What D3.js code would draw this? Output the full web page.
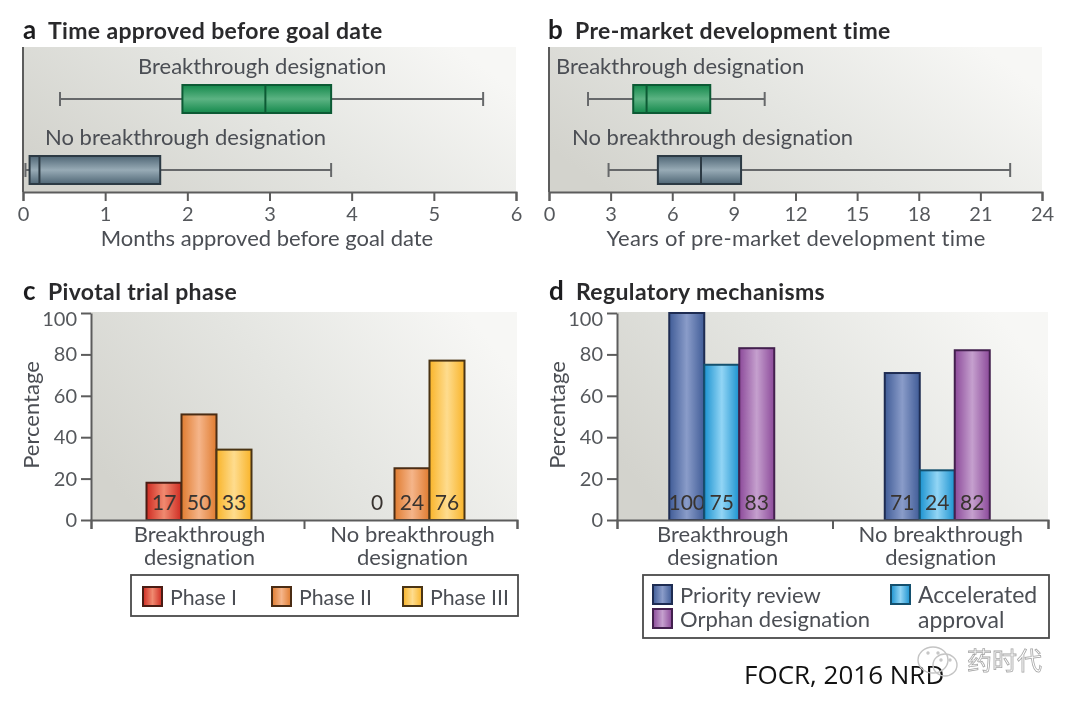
<!DOCTYPE html>
<html>
<head>
<meta charset="utf-8">
<script src="https://cdn.jsdelivr.net/npm/d3@7"></script>
<style>
  html, body { margin: 0; padding: 0; background: #fff; }
  svg { display: block; filter: blur(0.45px); }
  text { font-family: Lato, "Noto Sans", sans-serif; fill: #4b4e54; font-variant-ligatures: none; }
  .title { font-weight: 700; font-size: 23px; letter-spacing: 0.35px; fill: #2a2a2c; }
  .letter { font-weight: 700; font-size: 26px; fill: #1c1c1e; }
  .lab { font-size: 22px; }
  .tick text { font-size: 20px; fill: #55585c; }
  .val { font-size: 21px; fill: #38332f; text-anchor: middle; }
  .axis path, .axis line { stroke: #5c5c5c; stroke-width: 2; fill: none; }
</style>
</head>
<body>
<svg id="chart" width="1080" height="710"></svg>
<script>
// box stats: [whisker low, q1, median, q3, whisker high]
const groups = ["Breakthrough designation", "No breakthrough designation"];
const monthsBreakthrough = [0.45, 1.94, 2.95, 3.75, 5.6];
const monthsNone = [0.03, 0.08, 0.2, 1.67, 3.75];
const yearsBreakthrough = [1.9, 4.1, 4.75, 7.85, 10.5];
const yearsNone = [2.9, 5.3, 7.4, 9.35, 22.45];
const monthTicks = [0, 1, 2, 3, 4, 5, 6];
const yearTicks = [0, 3, 6, 9, 12, 15, 18, 21, 24];

const barGroups = ["Breakthrough", "No breakthrough"];
const percentTicks = [0, 20, 40, 60, 80, 100];
const phases = ["Phase I", "Phase II", "Phase III"];
// drawn heights in panel c sit a little above the printed numbers
const phaseHeights = [[18, 51, 34], [0, 25, 77]];
const phaseLabels = [[17, 50, 33], [0, 24, 76]];
const mechanisms = ["Priority review", "Accelerated", "approval", "Orphan designation"];
const mechanismValues = [[100, 75, 83], [71, 24, 82]];

const svg = d3.select("#chart");
const defs = svg.append("defs");

// background panel shading
const bg = defs.append("linearGradient").attr("id", "panelBg")
  .attr("x1", "0").attr("y1", "0.7").attr("x2", "1").attr("y2", "0.3");
bg.append("stop").attr("offset", "0").attr("stop-color", "#d3d3cd");
bg.append("stop").attr("offset", "0.5").attr("stop-color", "#e4e5e1");
bg.append("stop").attr("offset", "1").attr("stop-color", "#f7f7f5");

function shine(id, edge, mid, vertical) {
  const g = defs.append("linearGradient").attr("id", id)
    .attr("x1", "0").attr("y1", "0")
    .attr("x2", vertical ? "0" : "1").attr("y2", vertical ? "1" : "0");
  g.append("stop").attr("offset", "0").attr("stop-color", edge);
  g.append("stop").attr("offset", "0.5").attr("stop-color", mid);
  g.append("stop").attr("offset", "1").attr("stop-color", edge);
}
shine("boxGreen", "#14894c", "#5cb383", true);
shine("boxGrey", "#4f6675", "#98abb6", true);
shine("red", "#cf2b22", "#f08a70", false);
shine("orange", "#e07c30", "#f5b58a", false);
shine("yellow", "#f9b42a", "#fedc8e", false);
shine("navy", "#405c97", "#8a9cc9", false);
shine("cyan", "#1c93d0", "#92d5f5", false);
shine("purple", "#8c4a9a", "#c5a0ce", false);

function heading(x, y, letter, dx, title) {
  svg.append("text").attr("class", "letter").attr("x", x).attr("y", y).text(letter);
  svg.append("text").attr("class", "title").attr("x", x + dx).attr("y", y).text(title);
}

function drawBoxPanel(opts) {
  const x = d3.scaleLinear().domain(opts.domain).range([opts.left, opts.left + 493]);
  const top = 47, base = 192;

  svg.append("rect").attr("x", opts.left).attr("y", top)
    .attr("width", 493).attr("height", base - top).attr("fill", "url(#panelBg)");

  svg.append("g").attr("class", "axis")
    .attr("transform", `translate(0,${base})`)
    .call(d3.axisBottom(x).tickValues(opts.ticks).tickFormat(d3.format("d")).tickSize(9).tickPadding(6));
  svg.append("line").attr("x1", opts.left).attr("x2", opts.left)
    .attr("y1", top).attr("y2", base).attr("stroke", "#5c5c5c").attr("stroke-width", 2);

  opts.rows.forEach(r => {
    const [lo, q1, med, q3, hi] = r.stats;
    const g = svg.append("g");
    g.append("line").attr("x1", x(lo)).attr("x2", x(hi)).attr("y1", r.cy).attr("y2", r.cy)
      .attr("stroke", "#66686a").attr("stroke-width", 2);
    [lo, hi].forEach(v => {
      g.append("line").attr("x1", x(v)).attr("x2", x(v)).attr("y1", r.cy - 7).attr("y2", r.cy + 7)
        .attr("stroke", "#66686a").attr("stroke-width", 2);
    });
    g.append("rect").attr("x", x(q1)).attr("y", r.cy - 14)
      .attr("width", x(q3) - x(q1)).attr("height", 28)
      .attr("fill", `url(#${r.fill})`).attr("stroke", r.stroke).attr("stroke-width", 2);
    g.append("line").attr("x1", x(med)).attr("x2", x(med)).attr("y1", r.cy - 14).attr("y2", r.cy + 14)
      .attr("stroke", r.stroke).attr("stroke-width", 2);
    svg.append("text").attr("class", "lab").attr("x", r.labelX).attr("y", r.cy - 25).text(r.label);
  });

  svg.append("text").attr("class", "lab").attr("text-anchor", "middle")
    .style("letter-spacing", opts.xlabelSpacing)
    .attr("x", opts.xlabelX).attr("y", 246).text(opts.xlabel);
}

function drawBarPanel(opts) {
  const top = 313, base = 520;
  const y = d3.scaleLinear().domain([0, 100]).range([base, top]);
  const edge = d3.scaleLinear().domain([0, 2]).range([opts.left, opts.right]);
  const cat = d3.scaleBand().domain(barGroups).range([opts.left, opts.right]);
  const slot = d3.scaleBand().domain(d3.range(3)).range([0, 105]);

  svg.append("rect").attr("x", opts.left).attr("y", top - 1)
    .attr("width", opts.right - opts.left).attr("height", base - top + 1).attr("fill", "url(#panelBg)");

  barGroups.forEach((name, i) => {
    const g = svg.append("g")
      .attr("transform", `translate(${cat(name) + cat.bandwidth() / 2 + opts.shift - 52.5},0)`);
    opts.heights[i].forEach((v, j) => {
      if (v > 0) {
        g.append("rect").attr("x", slot(j)).attr("y", y(v))
          .attr("width", slot.bandwidth()).attr("height", y(0) - y(v))
          .attr("fill", `url(#${opts.fills[j]})`)
          .attr("stroke", opts.strokes[j]).attr("stroke-width", 2);
      }
      g.append("text").attr("class", "val")
        .attr("x", slot(j) + slot.bandwidth() / 2).attr("y", 510).text(opts.labels[i][j]);
    });
    const cx = cat(name) + cat.bandwidth() / 2 + opts.textShift[i];
    svg.append("text").attr("class", "lab").attr("text-anchor", "middle")
      .attr("x", cx).attr("y", 542).text(name);
    svg.append("text").attr("class", "lab").attr("text-anchor", "middle")
      .attr("x", cx).attr("y", 565).text("designation");
  });

  svg.append("g").attr("class", "axis")
    .attr("transform", `translate(0,${base})`)
    .call(d3.axisBottom(edge).tickValues([0, 1, 2]).tickFormat("").tickSize(9));
  svg.append("g").attr("class", "axis")
    .attr("transform", `translate(${opts.left},0)`)
    .call(d3.axisLeft(y).tickValues(percentTicks).tickSize(10).tickSizeOuter(0).tickPadding(4))
    .selectAll(".tick text").filter(d => d === 100).attr("dy", "0.62em");

  svg.append("text").attr("class", "lab").attr("text-anchor", "middle")
    .attr("transform", `translate(${opts.left - 52},415) rotate(-90)`).text("Percentage");
}

function legendBox(x, y, w, h) {
  svg.append("rect").attr("x", x).attr("y", y).attr("width", w).attr("height", h)
    .attr("fill", "#fff").attr("stroke", "#4a4a4a").attr("stroke-width", 1.8);
}
function legendItem(x, y, fill, stroke, label, size) {
  svg.append("rect").attr("x", x).attr("y", y).attr("width", 19).attr("height", 19)
    .attr("fill", `url(#${fill})`).attr("stroke", stroke).attr("stroke-width", 2);
  svg.append("text").attr("class", "lab").style("font-size", size + "px")
    .attr("x", x + 27).attr("y", y + 18).text(label);
}

// panel a
heading(23, 39, "a", 25, "Time approved before goal date");
drawBoxPanel({
  left: 23, domain: [0, 6], ticks: monthTicks,
  xlabel: "Months approved before goal date", xlabelX: 267, xlabelSpacing: "0",
  rows: [
    { label: groups[0], labelX: 138, cy: 99, stats: monthsBreakthrough, fill: "boxGreen", stroke: "#0c5a34" },
    { label: groups[1], labelX: 45, cy: 170, stats: monthsNone, fill: "boxGrey", stroke: "#2c3a44" }
  ]
});

// panel b
heading(548, 39, "b", 27, "Pre-market development time");
drawBoxPanel({
  left: 549, domain: [0, 24], ticks: yearTicks,
  xlabel: "Years of pre-market development time", xlabelX: 796, xlabelSpacing: "0.28px",
  rows: [
    { label: groups[0], labelX: 556, cy: 99, stats: yearsBreakthrough, fill: "boxGreen", stroke: "#0c5a34" },
    { label: groups[1], labelX: 572, cy: 170, stats: yearsNone, fill: "boxGrey", stroke: "#2c3a44" }
  ]
});

// panel c
heading(23, 300, "c", 25, "Pivotal trial phase");
drawBarPanel({
  left: 91, right: 517, shift: 1.5, textShift: [2, 2],
  heights: phaseHeights, labels: phaseLabels,
  fills: ["red", "orange", "yellow"], strokes: ["#4a1c14", "#4a2c14", "#4a3414"]
});
legendBox(131, 575, 387, 41);
legendItem(143, 587, "red", "#4a1c14", phases[0], 21.3);
legendItem(272, 587, "orange", "#4a2c14", phases[1], 21.3);
legendItem(403, 587, "yellow", "#4a3414", phases[2], 21.3);

// panel d
heading(549, 300, "d", 27, "Regulatory mechanisms");
drawBarPanel({
  left: 617, right: 1048, shift: -3, textShift: [-2, 0.5],
  heights: mechanismValues, labels: mechanismValues,
  fills: ["navy", "cyan", "purple"], strokes: ["#1e2c52", "#14506e", "#43204e"]
});
legendBox(643, 575, 406, 63);
legendItem(653, 585, "navy", "#1e2c52", mechanisms[0], 22);
legendItem(653, 609, "purple", "#43204e", mechanisms[3], 22);
legendItem(891, 585, "cyan", "#14506e", mechanisms[1], 23);
svg.append("text").attr("class", "lab").style("font-size", "23px")
  .attr("x", 918).attr("y", 628).text(mechanisms[2]);

// source note and watermark
svg.append("text").attr("x", 744).attr("y", 684)
  .style("font-family", "'Open Sans', sans-serif").style("font-size", "26px").style("fill", "#111")
  .text("FOCR, 2016 NRD");

const wm = svg.append("g").attr("fill", "none").attr("stroke", "#c4c4c4").attr("stroke-width", 1.4);
wm.append("ellipse").attr("cx", 933).attr("cy", 660).attr("rx", 15).attr("ry", 13);
wm.append("ellipse").attr("cx", 945).attr("cy", 665).attr("rx", 12).attr("ry", 11);
wm.append("circle").attr("cx", 928).attr("cy", 653).attr("r", 1);
wm.append("circle").attr("cx", 938).attr("cy", 653).attr("r", 1);
wm.append("circle").attr("cx", 941).attr("cy", 660).attr("r", 1);
wm.append("circle").attr("cx", 950).attr("cy", 660).attr("r", 1);
svg.append("text").attr("x", 967).attr("y", 670)
  .style("font-family", "'Noto Sans CJK SC', sans-serif").style("font-size", "25px")
  .style("fill", "#fff").style("stroke", "#a6a6a6").style("stroke-width", 0.8)
  .text("药时代");
</script>
</body>
</html>
